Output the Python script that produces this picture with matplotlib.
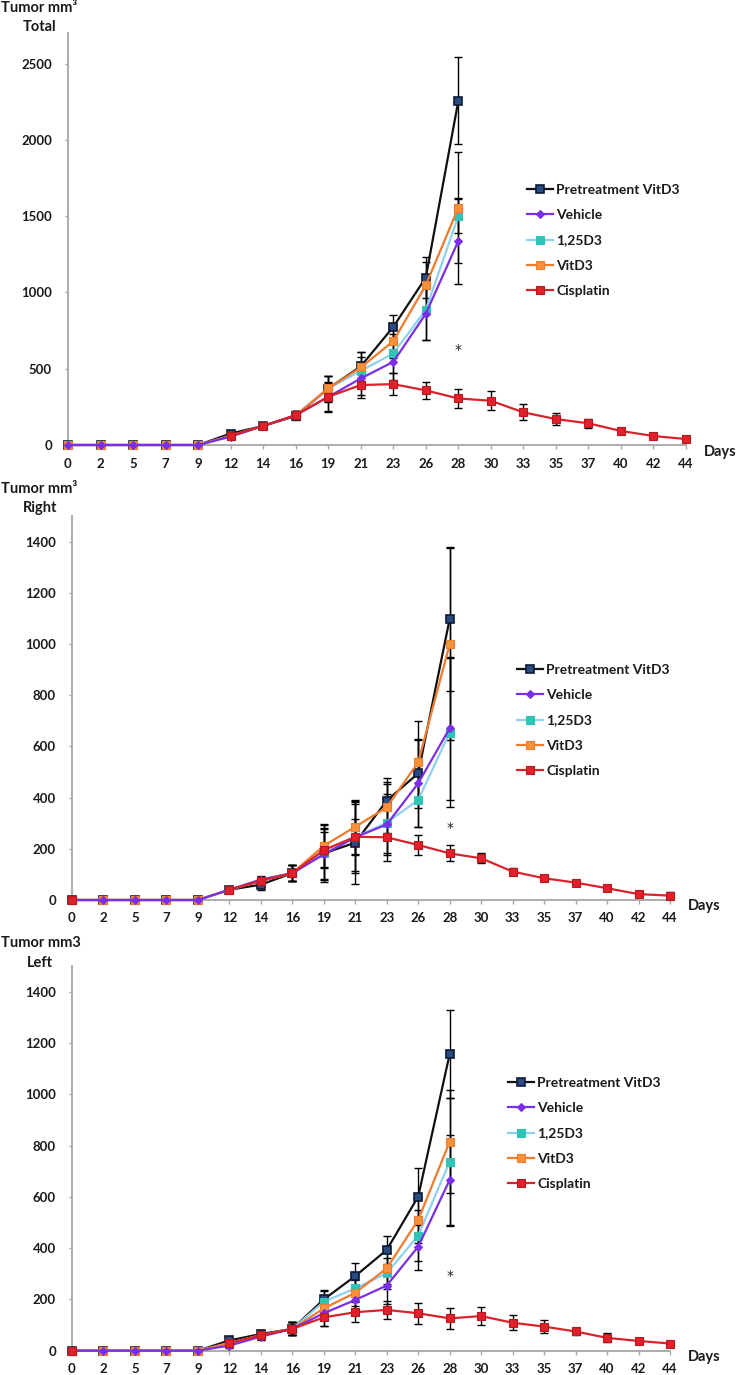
import numpy as np
import matplotlib
matplotlib.use("Agg")
import matplotlib.pyplot as plt

nan = np.nan
days = ['0', '2', '5', '7', '9', '12', '14', '16', '19', '21', '23', '26', '28',
        '30', '33', '35', '37', '40', '42', '44']
labels = ['Pretreatment VitD3', 'Vehicle', '1,25D3', 'VitD3', 'Cisplatin']

# ---- Total ----
pre_total = [0, 0, 0, 0, 0, 75, 125, 190, 370, 515, 774, 1097, 2255]
pre_total_err = [0, 0, 0, 0, 0, 15, 20, 25, 85, 95, 77, 135, 285]
veh_total = [0, 0, 0, 0, 0, 55, 125, 195, 315, 436, 545, 860, 1337]
veh_total_err = [0, 0, 0, 0, 0, 10, 20, 25, 100, 110, 120, 170, 283]
d125_total = [0, 0, 0, 0, 0, 60, 125, 195, 370, 486, 600, 885, 1500]
d125_total_err = [0, 0, 0, 0, 0, 10, 20, 25, 80, 90, 130, 200, 110]
vit_total = [0, 0, 0, 0, 0, 60, 125, 195, 371, 508, 680, 1047, 1555]
vit_total_err = [0, 0, 0, 0, 0, 10, 20, 25, 80, 100, 110, 150, 365]
cis_total = [nan, nan, nan, nan, nan, 60, 125, 195, 316, 393, 399, 358, 305,
             290, 214, 170, 142, 92, 59, 39]
cis_total_err = [0, 0, 0, 0, 0, 10, 20, 25, 90, 85, 70, 55, 65,
                 62, 53, 42, 30, 20, 20, 20]

# ---- Right ----
pre_right = [0, 0, 0, 0, 0, 40, 60, 105, 182, 224, 388, 495, 1098]
pre_right_err = [0, 0, 0, 0, 0, 10, 20, 30, 110, 160, 87, 135, 280]
veh_right = [0, 0, 0, 0, 0, 40, 80, 105, 178, 245, 295, 456, 671]
veh_right_err = [0, 0, 0, 0, 0, 10, 15, 30, 100, 140, 120, 170, 280]
d125_right = [0, 0, 0, 0, 0, 40, 75, 105, 182, 245, 302, 391, 654]
d125_right_err = [0, 0, 0, 0, 0, 10, 15, 30, 100, 130, 150, 105, 290]
vit_right = [0, 0, 0, 0, 0, 40, 75, 105, 212, 286, 362, 538, 999]
vit_right_err = [0, 0, 0, 0, 0, 10, 15, 30, 85, 105, 100, 160, 375]
cis_right = [0, nan, nan, nan, nan, 40, 75, 105, 195, 247, 245, 215, 182,
             163, 111, 85, 68, 46, 23, 17]
cis_right_err = [0, 0, 0, 0, 0, 10, 15, 30, 70, 70, 60, 38, 31,
                 20, 15, 10, 8, 5, 5, 15]

# ---- Left ----
pre_left = [0, 0, 0, 0, 0, 40, 65, 85, 200, 291, 393, 601, 1157]
pre_left_err = [0, 0, 0, 0, 0, 8, 15, 25, 37, 50, 54, 110, 172]
veh_left = [0, 0, 0, 0, 0, 20, 55, 85, 146, 198, 254, 406, 666]
veh_left_err = [0, 0, 0, 0, 0, 8, 15, 25, 50, 50, 70, 90, 175]
d125_left = [0, 0, 0, 0, 0, 30, 60, 85, 191, 243, 302, 449, 737]
d125_left_err = [0, 0, 0, 0, 0, 8, 15, 25, 40, 50, 60, 100, 250]
vit_left = [0, 0, 0, 0, 0, 30, 60, 85, 165, 226, 321, 510, 815]
vit_left_err = [0, 0, 0, 0, 0, 8, 15, 25, 40, 50, 60, 90, 200]
cis_left = [0, nan, nan, nan, nan, 30, 60, 85, 130, 150, 159, 146, 126,
            135, 109, 94, 75, 50, 38, 28]
cis_left_err = [0, 0, 0, 0, 0, 8, 15, 25, 35, 40, 35, 40, 40,
                35, 30, 25, 15, 18, 8, 8]

star_values = [620, 280, 290]

# ---------------- styling ----------------
FONT = 'Lato'
W, H = 737, 1375
fig = plt.figure(figsize=(W / 100, H / 100), dpi=100)

styles = [
    dict(color='#111111', marker='s', mfc='#2b4a80', mec='#0b1a36', ms=5.5, mew=1.2),
    dict(color='#7a2fe6', marker='D', mfc='#7a2fe6', mec='#7a2fe6', ms=4, mew=0.8),
    dict(color='#8ed0f0', marker='s', mfc='#2ec4b6', mec='#2ec4b6', ms=6, mew=0.8),
    dict(color='#f07a2e', marker='s', mfc='#f7923a', mec='#f07a2e', ms=5.5, mew=0.8),
    dict(color='#d8232a', marker='s', mfc='#e0202a', mec='#b81820', ms=5.5, mew=0.8),
]
zorders = [3.0, 3.4, 3.1, 3.2, 3.5]


def px_rect(left, right, top, bottom):
    return [left / W, 1 - bottom / H, (right - left) / W, (bottom - top) / H]


panels = [
    dict(rect=px_rect(68, 686, 33, 445), ylim=2700, yticks=np.arange(0, 2501, 500),
         series=[(pre_total, pre_total_err), (veh_total, veh_total_err),
                 (d125_total, d125_total_err), (vit_total, vit_total_err),
                 (cis_total, cis_total_err)],
         title1='Tumor mm³', title2='Total', t1y=8, t2y=27, t2x=40,
         legend=(527, 184), days=(704, 452), star=star_values[0]),
    dict(rect=px_rect(72, 670, 516, 900), ylim=1500, yticks=np.arange(0, 1401, 200),
         series=[(pre_right, pre_right_err), (veh_right, veh_right_err),
                 (d125_right, d125_right_err), (vit_right, vit_right_err),
                 (cis_right, cis_right_err)],
         title1='Tumor mm³', title2='Right', t1y=489, t2y=508, t2x=40,
         legend=(517, 664), days=(688, 906), star=star_values[1]),
    dict(rect=px_rect(72, 670, 966, 1350.7), ylim=1500, yticks=np.arange(0, 1401, 200),
         series=[(pre_left, pre_left_err), (veh_left, veh_left_err),
                 (d125_left, d125_left_err), (vit_left, vit_left_err),
                 (cis_left, cis_left_err)],
         title1='Tumor mm3', title2='Left', t1y=943, t2y=963, t2x=40,
         legend=(508, 1077), days=(688, 1357), star=star_values[2]),
]

axis_gray = '#a6a6a6'

for p in panels:
    ax = fig.add_axes(p['rect'])
    handles = []
    for (vals, errs), st, lab, zo in zip(p['series'], styles, labels, zorders):
        x = np.arange(len(vals))
        v = np.array(vals, dtype=float)
        e = np.array(errs, dtype=float)
        ax.errorbar(x, v, yerr=e, fmt='none', ecolor='black', elinewidth=1.0,
                    capsize=3.2, capthick=1.0, zorder=2, clip_on=False)
        ln, = ax.plot(x, v, lw=1.6, zorder=zo, clip_on=False, label=lab, **st)
        handles.append(ln)
    ax.text(12, p['star'], '*', ha='center', va='center', fontsize=10,
            family='DejaVu Sans', color='#222222')
    ax.set_xlim(0, 19)
    ax.set_ylim(0, p['ylim'])
    ax.set_xticks(np.arange(len(days)))
    ax.set_xticklabels(days)
    ax.set_yticks(p['yticks'])
    ax.set_yticklabels([str(int(t)) for t in p['yticks']])
    for s in ['top', 'right']:
        ax.spines[s].set_visible(False)
    for s in ['left', 'bottom']:
        ax.spines[s].set_color(axis_gray)
        ax.spines[s].set_linewidth(1.3)
    ax.tick_params(axis='x', direction='out', length=3, width=1, color=axis_gray,
                   pad=6, labelsize=9.5)
    ax.tick_params(axis='y', direction='out', length=2.5, width=1, color=axis_gray,
                   pad=9, labelsize=9.5)
    for lab in ax.get_xticklabels() + ax.get_yticklabels():
        lab.set_fontfamily(FONT)
        lab.set_fontweight('bold')
        lab.set_color('#1a1a1a')
    ax.patch.set_alpha(0)

    lx, ly = p['legend']
    leg = ax.legend(handles=handles, loc='upper left',
                    bbox_to_anchor=(lx / W, 1 - ly / H),
                    bbox_transform=fig.transFigure, frameon=False,
                    borderpad=0, borderaxespad=0, handlelength=1.9,
                    handletextpad=0.2, labelspacing=0.95,
                    prop=dict(family=FONT, weight='bold', size=10))
    for t in leg.get_texts():
        t.set_color('#1a1a1a')

    fig.text(1 / W, 1 - p['t1y'] / H, p['title1'], ha='left', va='center',
             fontsize=10.5, family=FONT, fontweight='bold', color='#1a1a1a')
    fig.text(p['t2x'] / W, 1 - p['t2y'] / H, p['title2'], ha='center', va='center',
             fontsize=10.5, family=FONT, fontweight='bold', color='#1a1a1a')
    dx, dy = p['days']
    fig.text(dx / W, 1 - dy / H, 'Days', ha='left', va='center',
             fontsize=10.5, family=FONT, fontweight='bold', color='#1a1a1a')

fig.savefig('out.png', dpi=100)
